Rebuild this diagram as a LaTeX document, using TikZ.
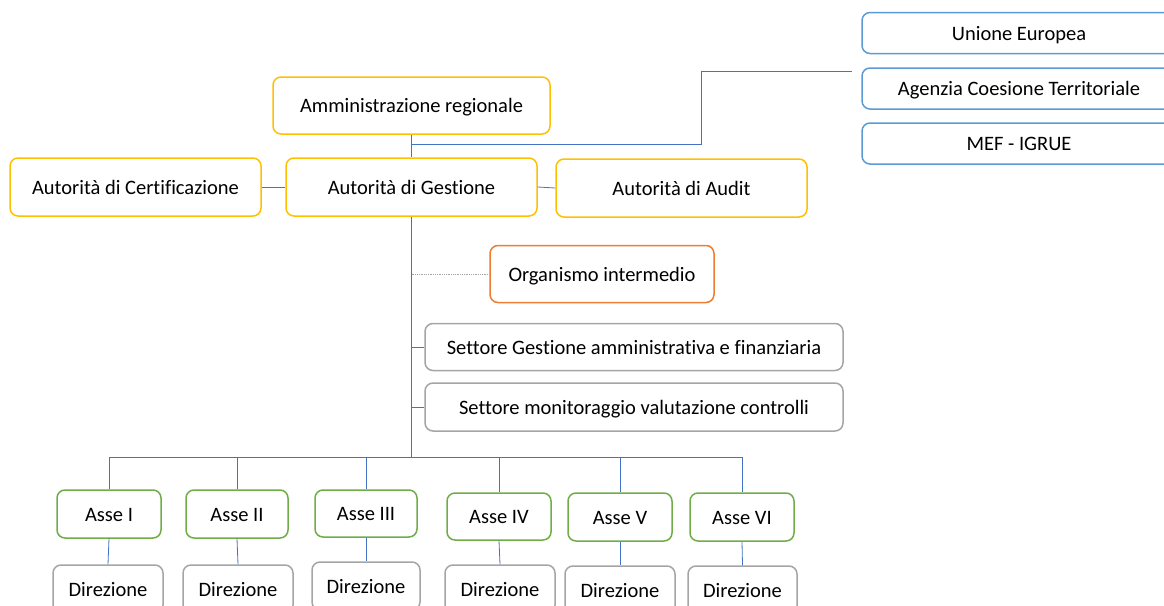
\documentclass[tikz,border=0pt]{standalone}
\usepackage{fontspec}
\setmainfont{Carlito}[Ligatures={NoCommon}]
\begin{document}
\definecolor{gold}{HTML}{FFC000}
\definecolor{orng}{HTML}{ED7D31}
\definecolor{sky}{HTML}{5B9BD5}
\definecolor{leaf}{HTML}{70AD47}
\definecolor{ash}{HTML}{A5A5A5}
\definecolor{wire}{HTML}{4472C4}
\begin{tikzpicture}[x=1pt,y=-1pt,
  box/.style={draw, rounded corners=8pt, line width=1.5pt, fill=white,
    font=\fontsize{20.5}{24}\selectfont, text=black, inner sep=0pt,
    text height=16pt, text depth=2pt},
  yb/.style={box, draw=gold},
  ob/.style={box, draw=orng},
  bb/.style={box, draw=sky},
  gb/.style={box, draw=leaf},
  sb/.style={box, draw=ash},
  link/.style={draw=wire, line width=0.8pt}]
\useasboundingbox (0,0) rectangle (1164,605);
\clip (0,0) rectangle (1164,605);

% top level
\node[yb, minimum width=277pt, minimum height=57pt] (ar) at (411.5,105.5) {Amministrazione regionale};
\node[yb, minimum width=251pt, minimum height=58pt] (adc) at (135.5,187) {Autorità di Certificazione};
\node[yb, minimum width=251pt, minimum height=58pt] (adg) at (411.5,187) {Autorità di Gestione};
\node[yb, minimum width=251pt, minimum height=58pt] (aud) at (681.5,188) {Autorità di Audit};

% external bodies
\node[bb, minimum width=314pt, minimum height=41pt] (ue) at (1019,33) {Unione Europea};
\node[bb, minimum width=314pt, minimum height=41pt] (act) at (1019,88.5) {Agenzia Coesione Territoriale};
\node[bb, minimum width=314pt, minimum height=41pt] (mef) at (1019,143.5) {MEF - IGRUE};

% offices below the managing authority
\node[ob, minimum width=224pt, minimum height=57pt] (oi) at (602,274) {Organismo intermedio};
\node[sb, minimum width=418pt, minimum height=47pt] (sg) at (634,347) {Settore Gestione amministrativa e finanziaria};
\node[sb, minimum width=418pt, minimum height=48pt] (sm) at (634,407) {Settore monitoraggio valutazione controlli};

% priority axes
\node[gb, minimum width=104pt, minimum height=48pt] (a1) at (109,514) {Asse I};
\node[gb, minimum width=102pt, minimum height=48pt] (a2) at (237,514) {Asse II};
\node[gb, minimum width=102pt, minimum height=47pt] (a3) at (366,513.5) {Asse III};
\node[gb, minimum width=104pt, minimum height=47pt] (a4) at (499,516.5) {Asse IV};
\node[gb, minimum width=104pt, minimum height=48pt] (a5) at (620,517) {Asse V};
\node[gb, minimum width=104pt, minimum height=48pt] (a6) at (742,517) {Asse VI};

% directorates
\node[sb, minimum width=110pt, minimum height=48pt] (d1) at (108,589) {Direzione};
\node[sb, minimum width=110pt, minimum height=48pt] (d2) at (238,589) {Direzione};
\node[sb, minimum width=108pt, minimum height=48pt] (d3) at (366,586) {Direzione};
\node[sb, minimum width=110pt, minimum height=48pt] (d4) at (500,589) {Direzione};
\node[sb, minimum width=110pt, minimum height=48pt] (d5) at (620,590) {Direzione};
\node[sb, minimum width=109pt, minimum height=48pt] (d6) at (742.5,590) {Direzione};

% connector points
\coordinate (j1) at (411.5,144);
\coordinate (j2) at (701,144);
\coordinate (j3) at (701,71);
\coordinate (j4) at (852,71);
\coordinate (bus) at (411.5,457);

% connectors
\draw[link] (ar.south) -- (adg.north);
\draw[link] (j1) -- (j2) -- (j3) -- (j4);
\draw[link] (adc.east) -- (adg.west);
\draw[link] (adg.east) -- (aud.west);
\draw[link] (adg.south) -- (bus);
\draw[draw=ash, line width=0.8pt, densely dotted] (adg.south |- oi.west) -- (oi.west);
\draw[link] (adg.south |- sg.west) -- (sg.west);
\draw[link] (adg.south |- sm.west) -- (sm.west);
\draw[link] (a1.north |- bus) -- (a6.north |- bus);
\foreach \i in {1,...,6}{
  \draw[link] (a\i.north) -- (a\i.north |- bus);
  \draw[link] (a\i.south) -- (d\i.north);
}
\end{tikzpicture}
\end{document}
